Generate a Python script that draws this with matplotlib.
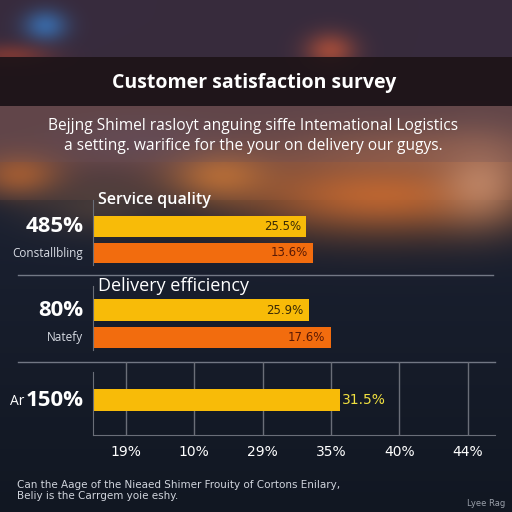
import numpy as np
import matplotlib
matplotlib.use("Agg")
import matplotlib.pyplot as plt
from matplotlib.patches import Rectangle
from matplotlib.lines import Line2D

# ---------------- data ----------------
title = "Customer satisfaction survey"
subtitle = ["Bejjng Shimel rasloyt anguing siffe Intemational Logistics",
            "a setting. warifice for the your on delivery our gugys."]
groups = ["Service quality", "Delivery efficiency"]
big_labels = ["485%", "80%"]
small_labels = ["Constallbling", "Natefy"]
yellow_vals = [15.5, 15.7]
orange_vals = [16.0, 17.3]
yellow_txt = ["25.5%", "25.9%"]
orange_txt = ["13.6%", "17.6%"]
bottom_val = 18.0
bottom_txt = "31.5%"
bottom_prefix = "Ar"
bottom_big = "150%"
tick_pos = [2.4, 7.4, 12.4, 17.4, 22.4, 27.4]
tick_labels = ["19%", "10%", "29%", "35%", "40%", "44%"]
footnote = ["Can the Aage of the Nieaed Shimer Frouity of Cortons Enilary,",
            "Beliy is the Carrgem yoie eshy."]
credit = "Lyee Rag"
XMAX = 29.4

YEL = "#f8bb08"
ORA = "#f26c0e"
W, H = 512, 512

fig = plt.figure(figsize=(5.12, 5.12), dpi=100)

# ---------------- background ----------------
yy, xx = np.mgrid[0:H, 0:W].astype(float)
img = np.zeros((H, W, 3))
def hexrgb(h):
    return np.array([int(h[i:i+2], 16) / 255 for i in (1, 3, 5)])
top = hexrgb("#372b3d"); warm = hexrgb("#5e4244")
navy1 = hexrgb("#1c2233"); navy2 = hexrgb("#111722")
t = np.clip((yy - 160) / 352, 0, 1)[..., None]
img[:] = navy1 * (1 - t) + navy2 * t
img[:106] = top
tw = np.clip((yy[106:200] - 160) / 60, 0, 1)[..., None]
img[106:200] = warm * (1 - tw) + img[106:200] * tw
def blob(cx, cy, sx, sy, col, a):
    g = np.exp(-(((xx - cx) / sx) ** 2 + ((yy - cy) / sy) ** 2))[..., None]
    c = hexrgb(col)
    img[:] = img * (1 - a * g) + c * (a * g)
blob(45, 25, 22, 16, "#3a6aa8", 0.9)
blob(330, 50, 25, 18, "#b0503a", 0.8)
blob(10, 55, 40, 12, "#a04030", 0.6)
blob(380, 195, 150, 40, "#c86a30", 0.9)
blob(220, 175, 50, 25, "#d07a35", 0.7)
blob(20, 175, 40, 22, "#c0682e", 0.7)
blob(480, 180, 40, 40, "#d8a080", 0.6)
blob(100, 205, 70, 28, "#6a5040", 0.5)
blob(420, 150, 120, 25, "#b07050", 0.5)
blob(140, 140, 80, 22, "#6a5870", 0.35)
bg = fig.add_axes([0, 0, 1, 1])
bg.imshow(np.clip(img, 0, 1), extent=[0, W, H, 0], aspect="auto", interpolation="bilinear")
bg.set_xlim(0, W); bg.set_ylim(H, 0); bg.axis("off")
bg.add_patch(Rectangle((0, 57), W, 49, color="#1e1418", alpha=0.93, lw=0))
bg.add_patch(Rectangle((0, 106), W, 56, color="#6a5058", alpha=0.25, lw=0))

bg.text(254, 83, title, color="white", fontsize=14, fontweight="bold",
        family="Open Sans", ha="center", va="center")
for i, line in enumerate(subtitle):
    bg.text(253, 126 + 20 * i, line, color="white", fontsize=11.2,
            family="Open Sans", ha="center", va="center")

# separator lines
for ysep, x0, x1 in [(275, 18, 493), (362, 18, 495)]:
    bg.add_line(Line2D([x0, x1], [ysep, ysep], color="#8a8f9c", lw=1.0, alpha=0.8))

def fy(p):
    return 1 - p / H

left = 93 / W
width = 402 / W
PXU = 402 / XMAX

# ---------------- two grouped panels ----------------
panels = [(200, 265, 226.5, 253.0), (286, 350, 310.0, 337.5)]
for i, (ptop, pbot, cy0, cy1) in enumerate(panels):
    ax = fig.add_axes([left, fy(pbot), width, (pbot - ptop) / H])
    ax.patch.set_alpha(0)
    unit = cy1 - cy0
    ax.set_ylim(1 + (pbot - cy1) / unit, -(cy0 - ptop) / unit)
    ax.set_xlim(0, XMAX)
    ax.barh([0], [yellow_vals[i]], height=0.8, color=YEL, left=0.1)
    ax.barh([1], [orange_vals[i]], height=0.78, color=ORA, left=0.1)
    ax.text(yellow_vals[i] - 0.3, 0, yellow_txt[i], ha="right", va="center",
            fontsize=8.5, color="#3a2a05")
    ax.text(orange_vals[i] - 0.3, 1, orange_txt[i], ha="right", va="center",
            fontsize=8.5, color="#5a1a05")
    ax.text(0.35, -(cy0 - ptop) / unit, groups[i], ha="left", va="center",
            fontsize=11.5 if i == 0 else 13, color="white", family="Open Sans",
            fontweight="semibold" if i == 0 else "normal")
    ax.text(-0.7, 0, big_labels[i], ha="right", va="center", fontsize=16,
            fontweight="bold", color="white", family="Open Sans")
    ax.text(-0.7, 1, small_labels[i], ha="right", va="center", fontsize=8.5,
            color="#d8dce4", family="Open Sans")
    for s in ["top", "right", "bottom"]:
        ax.spines[s].set_visible(False)
    ax.spines["left"].set_color("#6a6e78")
    ax.set_xticks([]); ax.set_yticks([])

# ---------------- bottom panel ----------------
ptop, pbot, cy = 362, 435, 400
ax = fig.add_axes([left, fy(pbot), width, (pbot - ptop) / H])
ax.patch.set_alpha(0)
unit = 27.5
ax.set_ylim((pbot - cy) / unit, -(cy - ptop) / unit)
ax.set_xlim(0, XMAX)
ax.barh([0], [bottom_val], height=0.8, color=YEL, left=0.1)
ax.text(bottom_val + 0.2, 0, bottom_txt, ha="left", va="center", fontsize=10,
        color="#f0e040")
ax.text(-0.7, 0, bottom_big, ha="right", va="center", fontsize=16,
        fontweight="bold", color="white", family="Open Sans")
ax.text((10 - 93) / PXU, 0.05, bottom_prefix, ha="left", va="center", fontsize=10,
        color="white", family="Open Sans")
ax.set_xticks(tick_pos)
ax.set_xticklabels(tick_labels, color="white", fontsize=10)
ax.tick_params(axis="x", length=0, pad=7)
ax.set_yticks([])
ax.grid(axis="x", color="#6a6e78", lw=1)
ax.set_axisbelow(True)
for s in ["top", "right"]:
    ax.spines[s].set_visible(False)
ax.spines["left"].set_color("#6a6e78")
ax.spines["left"].set_bounds((pbot - cy) / unit, -(cy - 372) / unit)
ax.spines["bottom"].set_color("#6a6e78")

# ---------------- footnote ----------------
bg.text(17, 485, footnote[0], color="#d0d4dc", fontsize=7.5, ha="left", va="center")
bg.text(17, 496, footnote[1], color="#d0d4dc", fontsize=7.5, ha="left", va="center")
bg.text(505, 504, credit, color="#9aa0aa", fontsize=6, ha="right", va="center")

fig.savefig("out.png", dpi=100)
